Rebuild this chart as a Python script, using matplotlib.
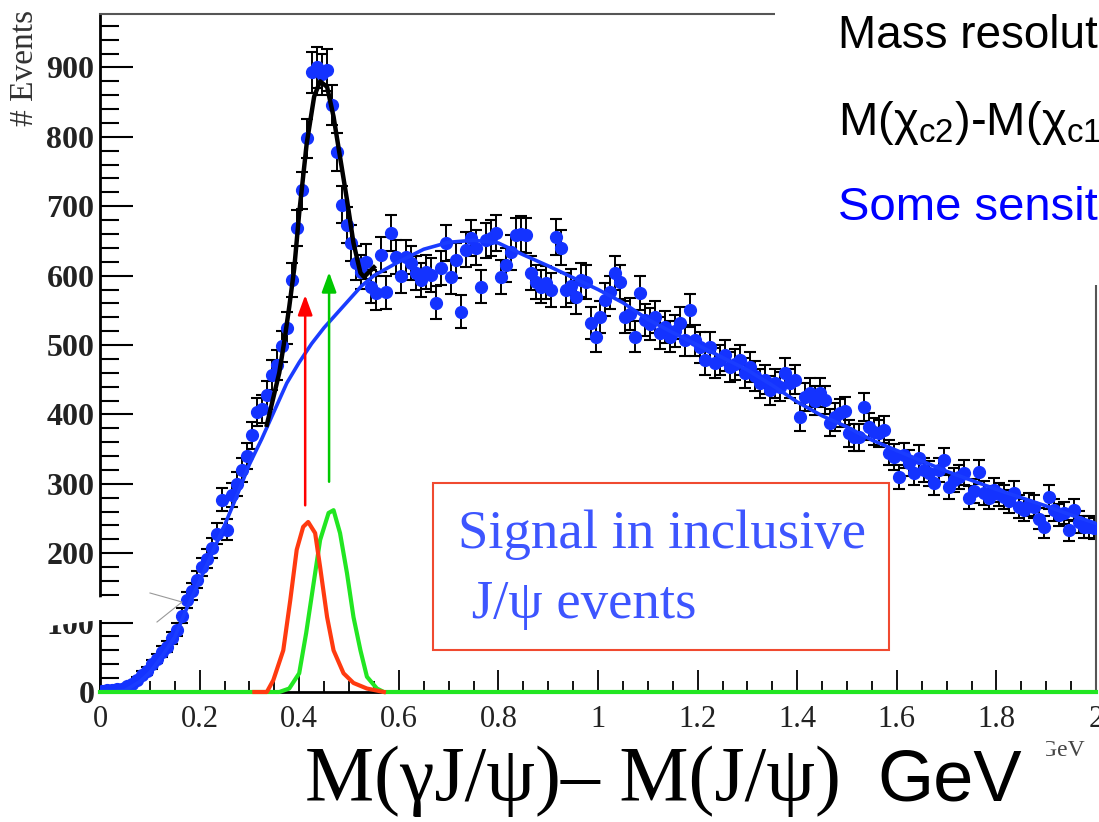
import numpy as np
import matplotlib
matplotlib.use("Agg")
import matplotlib.pyplot as plt
from matplotlib.patches import Rectangle, Polygon
from matplotlib.lines import Line2D
from matplotlib.ticker import MultipleLocator

# ---- data ----
# counts per 0.01 GeV bin, 0..2 GeV
counts = [
    2, 3, 3, 4, 5, 8, 12, 18, 25, 30,
    40, 48, 58, 65, 78, 90, 110, 132, 145, 162,
    180, 192, 208, 228, 277, 234, 284, 300, 320, 340,
    370, 404, 408, 428, 457, 471, 498, 524, 594, 668,
    723, 798, 893, 900, 890, 896, 846, 778, 702, 673,
    647, 618, 605, 620, 584, 575, 630, 576, 661, 627,
    600, 627, 618, 604, 594, 605, 601, 561, 611, 647,
    598, 622, 548, 637, 654, 640, 584, 651, 654, 661,
    598, 615, 634, 658, 660, 658, 604, 591, 584, 590,
    579, 656, 640, 579, 585, 569, 594, 591, 532, 512,
    540, 565, 576, 604, 591, 540, 545, 512, 575, 536,
    530, 540, 517, 526, 512, 520, 532, 507, 550, 507,
    497, 478, 497, 474, 478, 485, 468, 472, 478, 460,
    468, 455, 445, 450, 435, 445, 440, 460, 445, 450,
    396, 425, 431, 420, 431, 421, 388, 396, 402, 405,
    373, 367, 367, 411, 382, 375, 373, 378, 345, 339,
    310, 341, 330, 316, 337, 320, 315, 301, 320, 334,
    295, 305, 310, 316, 280, 290, 317, 287, 280, 291,
    285, 281, 275, 287, 267, 262, 270, 267, 250, 238,
    281, 262, 255, 258, 233, 262, 245, 238, 238, 236,
]
bin_width = 0.01

# background fit (blue)
bkg_x = [0, 0.03, 0.05, 0.08, 0.1, 0.125, 0.15, 0.175, 0.2, 0.225, 0.25, 0.275,
         0.3, 0.325, 0.35, 0.375, 0.4, 0.425, 0.45, 0.475, 0.5, 0.525, 0.55,
         0.6, 0.65, 0.7, 0.75, 0.8, 0.85, 0.9, 0.95, 1.0, 1.05, 1.1, 1.15,
         1.2, 1.25, 1.3, 1.35, 1.4, 1.45, 1.5, 1.55, 1.6, 1.65, 1.7, 1.75,
         1.8, 1.85, 1.9, 1.95, 2.0]
bkg_y = [0, 0, 2, 15, 28, 52, 79, 122, 160, 200, 240, 283,
         328, 365, 405, 445, 475, 502, 525, 545, 565, 585, 600,
         620, 638, 648, 651, 647, 630, 614, 597, 580, 561, 537, 518,
         500, 482, 464, 442, 418, 398, 382, 363, 348, 333, 318, 305,
         292, 280, 268, 255, 243]

# signal + background fit (black)
fit_x = [0.335, 0.345, 0.36, 0.37, 0.38, 0.39, 0.40, 0.415, 0.43, 0.442, 0.456,
         0.469, 0.482, 0.496, 0.509, 0.523, 0.53, 0.54, 0.55]
fit_y = [385, 415, 460, 505, 555, 610, 690, 790, 858, 880, 872,
         829, 771, 709, 647, 604, 598, 605, 612]

# MC signal shapes
chi1_x = [0.31, 0.335, 0.348, 0.368, 0.382, 0.395, 0.408, 0.418, 0.432, 0.442,
          0.456, 0.469, 0.489, 0.509, 0.536, 0.57]
chi1_y = [0, 0, 17, 60, 132, 205, 238, 245, 229, 180, 108, 60, 27, 13, 5, 0]
chi2_x = [0, 0.36, 0.38, 0.40, 0.414, 0.429, 0.442, 0.459, 0.469, 0.482, 0.496,
          0.509, 0.523, 0.536, 0.556, 0.57, 2.0]
chi2_y = [0, 0, 5, 27, 85, 157, 219, 258, 262, 229, 171, 108, 60, 22, 5, 0, 0]

# arrows: (x, tail, head)
arrow_red = (0.412, 269, 572)
arrow_green = (0.460, 303, 605)

yticks = [0, 100, 200, 300, 400, 500, 600, 700, 800, 900]
xticks = [0, 0.2, 0.4, 0.6, 0.8, 1.0, 1.2, 1.4, 1.6, 1.8, 2.0]
xticklabels = ["0", "0.2", "0.4", "0.6", "0.8", "1", "1.2", "1.4", "1.6", "1.8", "2"]

W, H = 1099, 822
SERIF = "Liberation Serif"
SANS = "Liberation Sans"
plt.rcParams["mathtext.fontset"] = "custom"
plt.rcParams["mathtext.rm"] = SANS
plt.rcParams["mathtext.it"] = SANS + ":italic"


def fx(px):
    return px / W


def fy(py):
    return 1 - py / H


fig = plt.figure(figsize=(W / 100, H / 100), dpi=100)
ax = fig.add_axes([fx(100), fy(692), (1096 - 100) / W, (692 - 14) / H])
ax.set_xlim(0, 2)
ax.set_ylim(0, 977)

centers = np.arange(len(counts)) * bin_width + bin_width / 2
counts = np.array(counts, dtype=float)
ax.errorbar(centers, counts, yerr=np.sqrt(counts), fmt="none", ecolor="black",
            elinewidth=1.4, capsize=4.5, capthick=1.5, zorder=2)
ax.plot(centers, counts, "o", color="#1433ff", markersize=8.5, zorder=3)

ax.plot(bkg_x, bkg_y, color="#1a3cff", lw=2.6, zorder=3.5)
ax.plot(fit_x, fit_y, color="black", lw=3.2, zorder=4)
ax.plot(chi2_x, chi2_y, color="#22e622", lw=3, zorder=4, clip_on=False)
ax.plot(chi1_x, chi1_y, color="#ff3a10", lw=3, zorder=4.2, clip_on=False)

for (x, y0, y1), col in [(arrow_red, "#ff0000"), (arrow_green, "#00c800")]:
    ax.annotate("", xy=(x, y1), xytext=(x, y0),
                arrowprops=dict(arrowstyle="-|>,head_length=0.6,head_width=0.22",
                                color=col, lw=1.8, mutation_scale=20,
                                shrinkA=0, shrinkB=0), zorder=5)

# axes styling, ROOT-like
ax.set_yticks(yticks)
ax.set_yticklabels([str(v) for v in yticks], fontfamily=SERIF,
                   fontweight="bold", fontsize=23, color="#222222")
ax.yaxis.set_minor_locator(MultipleLocator(20))
ax.set_xticks(xticks)
ax.set_xticklabels(xticklabels, fontfamily=SERIF, fontsize=22, color="#222222")
ax.xaxis.set_minor_locator(MultipleLocator(0.05))
ax.tick_params(axis="y", which="major", direction="in", length=24, width=1.5, pad=4)
ax.tick_params(axis="y", which="minor", direction="in", length=14, width=1.5)
ax.tick_params(axis="x", which="major", direction="in", length=16, width=1.3, pad=9)
ax.tick_params(axis="x", which="minor", direction="in", length=8, width=1.3)
ax.spines["left"].set_linewidth(2)
ax.spines["bottom"].set_linewidth(2)
ax.spines["top"].set_color("#555555")
ax.spines["right"].set_color("#555555")
ax.spines["top"].set_linewidth(1.5)
ax.spines["right"].set_linewidth(1.5)

fig.text(fx(25), fy(68), "# Events", rotation=90, ha="center", va="center",
         fontsize=24, family=SERIF, color="#333333")

# slide overlays
fig.patches.append(Rectangle((fx(775), fy(285)), 1 - fx(775), fy(0) - fy(285),
                             transform=fig.transFigure, facecolor="white",
                             edgecolor="none", zorder=5))
fig.patches.append(Polygon([(fx(0), fy(604)), (fx(150), fy(594)), (fx(180), fy(602)),
                            (fx(157), fy(621)), (fx(100), fy(620)), (fx(0), fy(632))],
                           closed=True, transform=fig.transFigure, facecolor="white",
                           edgecolor="none", zorder=5))
fig.lines.append(Line2D([fx(150), fx(182), fx(157)], [fy(593), fy(602), fy(622)],
                        transform=fig.transFigure, color="#999999", lw=0.8, zorder=6))

fig.text(fx(838), fy(48), "Mass resolution", fontsize=33, family=SANS,
         color="black", va="baseline", zorder=6)
fig.text(fx(838), fy(135), r"M($\mathrm{\chi_{c2}}$)-M($\mathrm{\chi_{c1}}$)",
         fontsize=34, family=SANS, color="black", va="baseline", zorder=6)
fig.text(fx(838), fy(220), "Some sensitivity", fontsize=34, family=SANS,
         color="#0000ff", va="baseline", zorder=6)

fig.patches.append(Rectangle((fx(433), fy(650)), fx(889) - fx(433), fy(483) - fy(650),
                             transform=fig.transFigure, facecolor="none",
                             edgecolor="#f04a30", lw=1.5, zorder=6))
fig.text(fx(458), fy(535), "Signal in inclusive", fontsize=39.5, family=SERIF,
         color="#3d55ff", va="center", zorder=7)
fig.text(fx(458), fy(605), " J/\u03c8 events", fontsize=39.5, family=SERIF,
         color="#3d55ff", va="center", zorder=7)

fig.text(fx(1085), fy(750), "GeV", fontsize=17, family=SERIF, color="#444444",
         ha="right", va="center", zorder=6)
fig.patches.append(Rectangle((fx(1030), fy(765)), fx(1046) - fx(1030), fy(735) - fy(765),
                             transform=fig.transFigure, facecolor="white",
                             edgecolor="none", zorder=6.5))

fig.text(fx(305), fy(800), "M(\u03b3J/\u03c8)\u2013 M(J/\u03c8)", fontsize=56,
         family=SERIF, color="black", va="baseline", zorder=7)
fig.text(fx(1022), fy(800), "GeV", fontsize=52, family=SANS, color="black",
         ha="right", va="baseline", zorder=7)

fig.savefig("out.png", dpi=100)
